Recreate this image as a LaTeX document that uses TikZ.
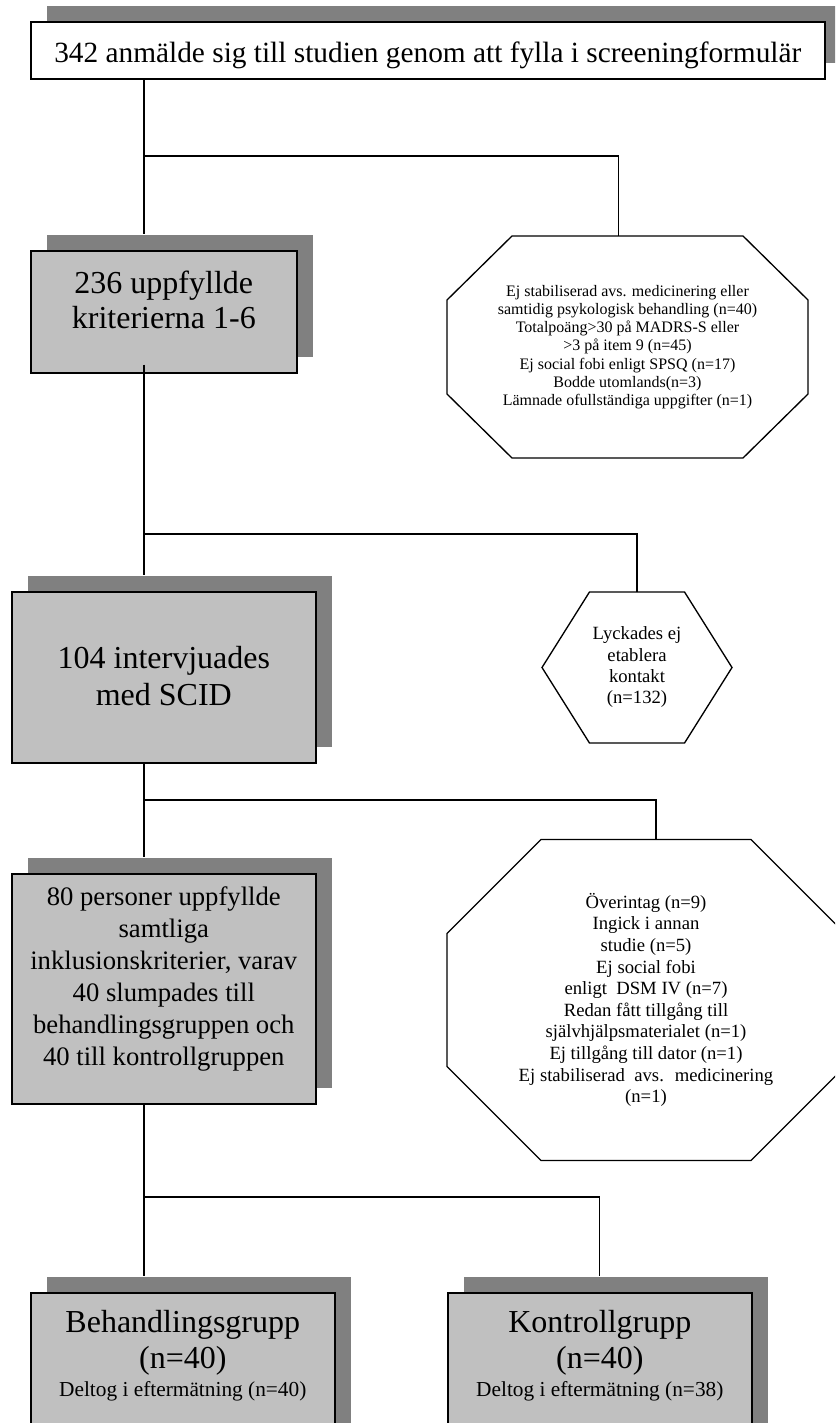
\documentclass[tikz,border=0pt]{standalone}
\usepackage{fontspec}
\setmainfont{Liberation Serif}
\usetikzlibrary{shadows,positioning,calc}
\definecolor{boxgray}{RGB}{192,192,192}
\definecolor{shadowgray}{RGB}{128,128,128}
\newcommand{\chamferframe}[3]{%
  \draw[outline] ([yshift=-#3]#1.north west) -- ([xshift=#2]#1.north west) -- ([xshift=-#2]#1.north east)
    -- ([yshift=-#3]#1.north east) -- ([yshift=#3]#1.south east) -- ([xshift=-#2]#1.south east)
    -- ([xshift=#2]#1.south west) -- ([yshift=#3]#1.south west) -- cycle;}
\tikzset{
  card/.style={draw=black,line width=1.2pt,fill=boxgray,anchor=north west,align=center,inner ysep=0pt,inner xsep=2pt,
    drop shadow={shadow xshift=12pt,shadow yshift=12pt,fill=shadowgray,opacity=1}},
  note/.style={draw=none,align=center,inner sep=0pt,outer sep=0pt},
  outline/.style={draw=black,line width=1pt},
  link/.style={draw=black,line width=0.9pt}
}

\begin{document}
\begin{tikzpicture}[x=0.75pt,y=-0.75pt]
\useasboundingbox (0,0) rectangle (835,1423);
\clip (0,0) rectangle (835,1423);

% boxes
\node[card,fill=white,minimum width=595.5pt,text height=30.75pt,text depth=12pt,font=\fontsize{22}{25}\selectfont] (screen) at (30,21)
  {342 anmälde sig till studien genom att fylla i screeningformulär};
\node[card,minimum width=199.5pt,text height=58.5pt,text depth=33pt,font=\fontsize{24}{26.25}\selectfont] (crit) at (30,250)
  {236 uppfyllde\\kriterierna 1-6};
\node[card,minimum width=228pt,text height=85.5pt,text depth=42.75pt,font=\fontsize{24}{27.75}\selectfont] (scid) at (11,591)
  {104 intervjuades\\med SCID};
\node[card,minimum width=228pt,text height=144pt,text depth=28.5pt,font=\fontsize{20}{24}\selectfont] (random) at (11,873)
  {80 personer uppfyllde\\samtliga\\inklusionskriterier, varav\\40 slumpades till\\behandlingsgruppen och\\40 till kontrollgruppen};
\node[card,minimum width=228pt,text height=78pt,text depth=33pt,font=\fontsize{24}{27}\selectfont] (treat) at (30,1292)
  {Behandlingsgrupp\\(n=40)\\[-6pt]{\fontsize{16}{21}\selectfont Deltog i eftermätning (n=40)}};
\node[card,minimum width=228pt,text height=78pt,text depth=33pt,font=\fontsize{24}{27}\selectfont] (ctrl) at (447,1292)
  {Kontrollgrupp\\(n=40)\\[-6pt]{\fontsize{16}{21}\selectfont Deltog i eftermätning (n=38)}};

% exclusions
\node[note,minimum width=270.75pt,minimum height=166.5pt,font=\fontsize{12}{13.7}\selectfont] (excl1) at (627.5,347)
  {Ej stabiliserad avs. medicinering eller\\samtidig psykologisk behandling (n=40)\\Totalpoäng>30 på MADRS-S eller\\>3 på item 9 (n=45)\\Ej social fobi enligt SPSQ (n=17)\\Bodde utomlands(n=3)\\Lämnade ofullständiga uppgifter (n=1)};
\chamferframe{excl1}{48.75pt}{48pt}
\node[note,minimum width=142.5pt,minimum height=113.25pt,font=\fontsize{14}{16}\selectfont] (nocontact) at (637,667.5)
  {Lyckades ej\\etablera\\kontakt\\(n=132)};
\draw[outline] (nocontact.west) -- ([xshift=35.6pt]nocontact.north west) -- ([xshift=-35.6pt]nocontact.north east)
  -- (nocontact.east) -- ([xshift=-35.6pt]nocontact.south east) -- ([xshift=35.6pt]nocontact.south west) -- cycle;
\node[note,minimum width=298.5pt,minimum height=240.75pt,font=\fontsize{14}{16.2}\selectfont] (excl2) at (646,1000)
  {Överintag (n=9)\\Ingick i annan\\studie (n=5)\\Ej social fobi\\enligt~ DSM IV (n=7)\\Redan fått tillgång till\\självhjälpsmaterialet (n=1)\\Ej tillgång till dator (n=1)\\Ej stabiliserad~ avs.~ medicinering\\(n=1)};
\chamferframe{excl2}{70.5pt}{70.5pt}

% connectors
\coordinate (trunk) at (144,0);
\coordinate (j1) at (0,156);
\coordinate (j2) at (0,534);
\coordinate (j3) at (0,800);
\coordinate (j4) at (0,1197);
\draw[link] (trunk |- screen.south) -- ([yshift=12pt]trunk |- crit.north);
\draw[link] (trunk |- j1) -| ([xshift=-7pt]excl1.north);
\draw[link] ([yshift=6.75pt]trunk |- crit.south) -- ([yshift=12pt]trunk |- scid.north);
\draw[link] (trunk |- j2) -| (nocontact.north);
\draw[link] (trunk |- scid.south) -- ([yshift=12pt]trunk |- random.north);
\draw[link] (trunk |- j3) -| ([xshift=7.5pt]excl2.north);
\draw[link] (trunk |- random.south) -- ([yshift=12pt]trunk |- treat.north);
\draw[link] (trunk |- j4) -| ([yshift=12pt]ctrl.north);
\end{tikzpicture}
\end{document}
